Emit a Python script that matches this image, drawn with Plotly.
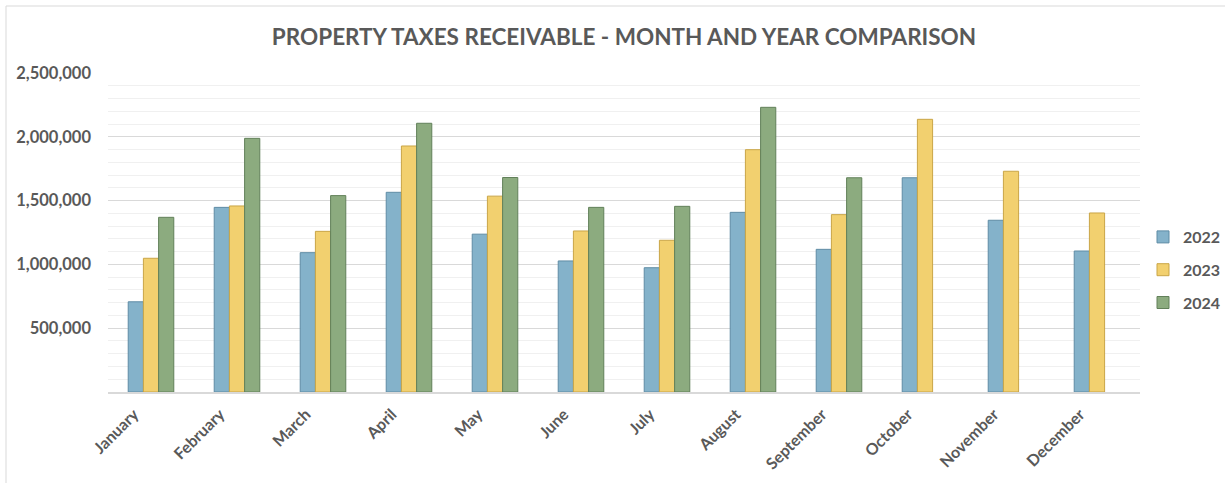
import plotly.graph_objects as go

months = ["January", "February", "March", "April", "May", "June",
          "July", "August", "September", "October", "November", "December"]
years = ["2022", "2023", "2024"]
v2022 = [707000, 1447000, 1092000, 1565000, 1237000, 1027000,
         974000, 1408000, 1118000, 1679000, 1346000, 1105000]
v2023 = [1048000, 1458000, 1259000, 1928000, 1535000, 1262000,
         1189000, 1899000, 1390000, 2137000, 1730000, 1403000]
v2024 = [1369000, 1988000, 1539000, 2106000, 1681000, 1447000,
         1455000, 2231000, 1679000, None, None, None]

fills = ["#84B2CA", "#F2D06F", "#8CAB7F"]
edges = ["#5F8CA5", "#C9A547", "#62805A"]

fig = go.Figure()
for name, vals, fc, ec in zip(years, [v2022, v2023, v2024], fills, edges):
    fig.add_trace(go.Bar(
        x=months, y=vals, name=name, legendgroup=name,
        marker=dict(color=fc, line=dict(color=ec, width=1)),
    ))

# label-only axis (slightly offset so rotated labels sit like the original)
fig.add_trace(go.Scatter(x=[], y=[], xaxis="x2", yaxis="y", showlegend=False,
                         hoverinfo="skip"))

font_family = "Lato, 'Open Sans', sans-serif"
L, R, T, B = 108, 85, 73, 91
W, H = 1225, 483
pw, ph = W - L - R, H - T - B
cat_px = pw / len(months)
d = 17 / cat_px

fig.update_layout(
    width=W, height=H,
    paper_bgcolor="white", plot_bgcolor="white",
    margin=dict(l=L, r=R, t=T, b=B, autoexpand=False),
    barmode="group", bargap=0.47, bargroupgap=0,
    title=dict(text="PROPERTY TAXES RECEIVABLE - MONTH AND YEAR COMPARISON",
               x=0.5, xref="paper", xanchor="center", y=1 - 37 / H, yanchor="middle",
               font=dict(family=font_family, size=22.5, color="#595959", weight="bold")),
    font=dict(family=font_family, color="#595959"),
    showlegend=True,
    legend=dict(x=(1143 - L) / pw, xanchor="left", y=(392 - 270) / ph, yanchor="middle",
                traceorder="grouped", tracegroupgap=9,
                font=dict(size=16, color="#595959", family=font_family, weight="bold"),
                itemwidth=30),
    yaxis=dict(range=[0, 2500000], tickvals=[500000, 1000000, 1500000, 2000000, 2500000],
               ticktext=["500,000", "1,000,000", "1,500,000", "2,000,000", "2,500,000"],
               showgrid=True, gridcolor="#D9D9D9", gridwidth=1,
               minor=dict(dtick=100000, tick0=0, showgrid=True, gridcolor="#F0F0F0", gridwidth=1),
               zeroline=False, showline=False, ticks="", automargin=False,
               tickfont=dict(size=16.5, color="#595959", weight="bold"), ticklabelstandoff=16),
    xaxis=dict(showline=True, linecolor="#D9D9D9", linewidth=2, ticks="",
               showticklabels=False, automargin=False),
    xaxis2=dict(overlaying="x", anchor="y", side="bottom", type="linear",
                range=[-0.5 + d, len(months) - 0.5 + d],
                tickmode="array", tickvals=list(range(len(months))), ticktext=months,
                tickangle=-45, showgrid=False, zeroline=False, showline=False, ticks="",
                tickfont=dict(size=16, color="#595959", weight="bold"),
                automargin=False, ticklabelstandoff=9),
    shapes=[dict(type="rect", xref="paper", yref="paper",
                 x0=(6 - L) / pw, x1=(1235 - L) / pw,
                 y0=(392 - 495) / ph, y1=(392 - 6) / ph,
                 line=dict(color="#D9D9D9", width=1), layer="below")],
)
fig.write_html("out.html", config={"displayModeBar": False},
               post_script="document.body.style.margin='0';")
